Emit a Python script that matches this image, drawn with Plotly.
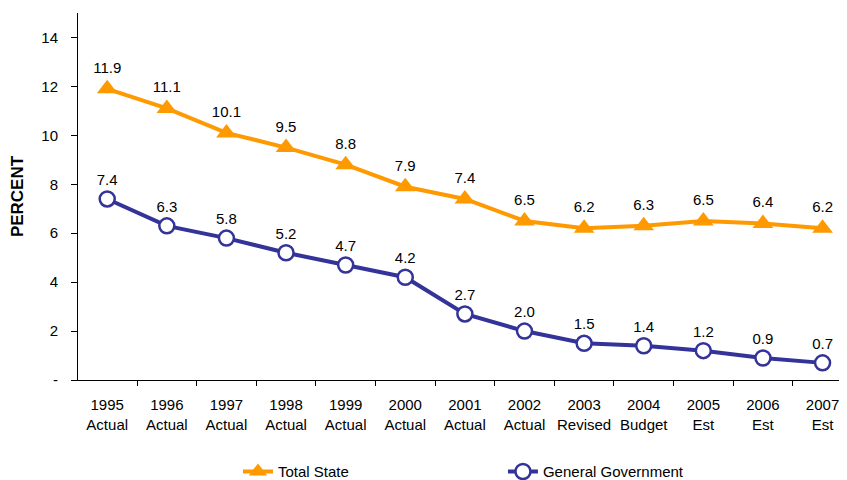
import plotly.graph_objects as go

years = ["1995", "1996", "1997", "1998", "1999", "2000", "2001",
         "2002", "2003", "2004", "2005", "2006", "2007"]
kinds = ["Actual", "Actual", "Actual", "Actual", "Actual", "Actual", "Actual",
         "Actual", "Revised", "Budget", "Est", "Est", "Est"]
total_state = [11.9, 11.1, 10.1, 9.5, 8.8, 7.9, 7.4, 6.5, 6.2, 6.3, 6.5, 6.4, 6.2]
general_gov = [7.4, 6.3, 5.8, 5.2, 4.7, 4.2, 2.7, 2.0, 1.5, 1.4, 1.2, 0.9, 0.7]

cats = [y + "<br>" + k for y, k in zip(years, kinds)]
font = "Liberation Sans, Arial, sans-serif"

fig = go.Figure()
fig.add_trace(go.Scatter(
    x=cats, y=total_state, name="Total State", mode="lines+markers+text",
    line=dict(color="#FF9900", width=4),
    marker=dict(symbol="triangle-up", size=18, color="#FF9900"),
    text=[f"{v:.1f}" for v in total_state], textposition="top center",
    textfont=dict(size=15, color="black", family=font),
))
fig.add_trace(go.Scatter(
    x=cats, y=general_gov, name="General Government", mode="lines+markers+text",
    line=dict(color="#333399", width=4),
    marker=dict(symbol="circle", size=15, color="white",
                line=dict(color="#333399", width=2.5)),
    text=[f"{v:.1f}" for v in general_gov], textposition="top center",
    textfont=dict(size=15, color="black", family=font),
))

# page body has an 8px margin, so the figure is a bit smaller than the window
fig.update_layout(
    width=839, height=472,
    margin=dict(l=70, r=0, t=5, b=100, autoexpand=False),
    paper_bgcolor="white", plot_bgcolor="white",
    font=dict(family=font, size=15, color="black"),
    showlegend=True,
    legend=dict(orientation="h", x=0.208, xanchor="left", y=-0.25, yanchor="middle",
                entrywidth=220, font=dict(size=15)),
    xaxis=dict(type="category", range=[-0.49, 12.41], showline=True,
               linecolor="black", linewidth=1, ticks="outside", ticklen=5,
               tickson="boundaries", tickcolor="black", showgrid=False,
               tickangle=0, tickfont=dict(size=15), automargin=False,
               ticklabelstandoff=11),
    yaxis=dict(range=[0, 15], tickvals=[0, 2, 4, 6, 8, 10, 12, 14],
               ticktext=["-", "2", "4", "6", "8", "10", "12", "14"],
               showline=True, linecolor="black", linewidth=1,
               ticks="outside", ticklen=6, tickcolor="black",
               showgrid=False, zeroline=False, tickfont=dict(size=15),
               automargin=False, ticklabelstandoff=10,
               title=dict(text="<b>PERCENT</b>", font=dict(size=17), standoff=20)),
)

fig.write_html("out.html")
